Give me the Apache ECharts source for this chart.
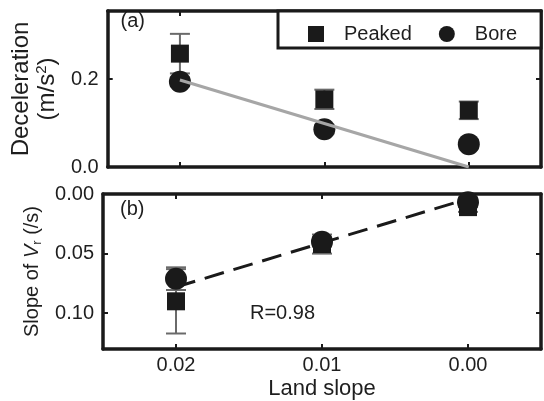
<!DOCTYPE html>
<html>
<head>
<meta charset="utf-8">
<script src="https://cdn.jsdelivr.net/npm/echarts@6/dist/echarts.min.js"></script>
<style>
html,body{margin:0;padding:0;background:#fff;}
#chart{width:544px;height:401px;}
</style>
</head>
<body>
<div id="chart"></div>
<script>
// ---- data ----
const slopes = [0.02, 0.01, 0.00];
const peakedDecel = [0.258, 0.154, 0.129];
const peakedDecelErr = [0.045, 0.022, 0.020];
const boreDecel = [0.194, 0.086, 0.052];
const boreDecelErr = [0.010, 0.010, 0.010];
const peakedVr = [0.090, 0.042, 0.011];
const peakedVrErr = [0.027, 0.008, 0.004];
const boreVr = [0.071, 0.040, 0.007];
const boreVrErr = [0.0095, 0.004, 0.004];
const fitDecel = [0.198, 0.0];   // fit line values at slopes[0] and slopes[2]
const fitVr = [0.078, 0.004];
const xTicks = [0.02, 0.01, 0.00];
const decelTicks = [0.0, 0.2];
const vrTicks = [0.00, 0.05, 0.10];
const rText = 'R=0.98';

const FONT = "'Liberation Sans', Arial, Helvetica, sans-serif";
const INK = '#1a1a1a';
const TXT = '#1e1e1e';

function pts(vals){ return slopes.map((s,i)=>[s, vals[i]]); }
function errs(vals, e){ return slopes.map((s,i)=>[s, vals[i]-e[i], vals[i]+e[i]]); }

function errRender(params, api){
  const x = api.value(0);
  const a = api.coord([x, api.value(1)]);
  const b = api.coord([x, api.value(2)]);
  const hw = 10;
  const st = {stroke:'#6a6a6a', lineWidth:2};
  return {type:'group', children:[
    {type:'line', shape:{x1:a[0],y1:a[1],x2:b[0],y2:b[1]}, style:st},
    {type:'line', shape:{x1:a[0]-hw,y1:a[1],x2:a[0]+hw,y2:a[1]}, style:st},
    {type:'line', shape:{x1:b[0]-hw,y1:b[1],x2:b[0]+hw,y2:b[1]}, style:st}
  ]};
}

function xAx(gridIndex, position, showLabels, extra){
  return Object.assign({
    type:'value', gridIndex, position, min:-0.005, max:0.025, inverse:true,
    axisLine:{show:true, onZero:false, lineStyle:{color:INK, width:3.5}},
    axisTick:{show:true, inside:true, length:5, customValues:xTicks, lineStyle:{color:INK, width:2}},
    axisLabel:{show:showLabels, customValues:xTicks, formatter:v=>v.toFixed(2), margin:6,
               fontSize:20, color:TXT, fontFamily:FONT},
    splitLine:{show:false}
  }, extra||{});
}
function yAx(gridIndex, position, showLabels, min, max, inverse, ticks, dec, extra){
  return Object.assign({
    type:'value', gridIndex, position, min, max, inverse,
    axisLine:{show:true, onZero:false, lineStyle:{color:INK, width:3.5}},
    axisTick:{show:true, inside:true, length:5, customValues:ticks, lineStyle:{color:INK, width:2}},
    axisLabel:{show:showLabels, customValues:ticks, formatter:v=>v.toFixed(dec), margin:9,
               fontSize:20, color:TXT, fontFamily:FONT},
    splitLine:{show:false}
  }, extra||{});
}

const mark = {color:INK, opacity:1};

const chart = echarts.init(document.getElementById('chart'), null, {renderer:'canvas'});
chart.setOption({
  animation:false,
  backgroundColor:'#fff',
  textStyle:{fontFamily:FONT, color:TXT},
  grid:[
    {left:103, width:438, top:11, height:156},
    {left:103, width:438, top:194, height:158}
  ],
  xAxis:[
    xAx(0,'bottom',false),
    xAx(0,'top',false),
    xAx(1,'bottom',true,{name:'Land slope', nameLocation:'middle', nameGap:29,
        nameTextStyle:{fontSize:22, color:TXT, fontFamily:FONT}}),
    xAx(1,'top',false)
  ],
  yAxis:[
    yAx(0,'left',true,0,0.355,false,decelTicks,1,{
      name:'Deceleration\n(m/s{sup|2})', nameLocation:'middle', nameRotate:90, nameGap:38,
      nameTextStyle:{fontSize:24, lineHeight:26, color:TXT, fontFamily:FONT,
        rich:{sup:{fontSize:15, lineHeight:16, verticalAlign:'top', color:TXT, fontFamily:FONT}}}
    }),
    yAx(0,'right',false,0,0.355,false,decelTicks,1),
    yAx(1,'left',true,0,0.13,true,vrTicks,2,{
      name:'Slope of {i|V}{sub|r} (/s)', nameLocation:'middle', nameRotate:90, nameGap:59,
      nameTextStyle:{fontSize:20, lineHeight:24, color:TXT, fontFamily:FONT,
        rich:{
          i:{fontSize:20, lineHeight:24, fontStyle:'italic', color:TXT, fontFamily:FONT},
          sub:{fontSize:13, lineHeight:12, verticalAlign:'bottom', color:TXT, fontFamily:FONT}
        }}
    }),
    yAx(1,'right',false,0,0.13,true,vrTicks,2)
  ],
  legend:{
    left:278, top:11, orient:'horizontal', selectedMode:false,
    padding:[13,24,4,30], itemGap:27, itemWidth:16, itemHeight:16,
    backgroundColor:'#fff', borderColor:INK, borderWidth:3, borderRadius:0,
    textStyle:{fontSize:20, color:TXT, fontFamily:FONT, lineHeight:20, padding:[0,0,0,15]},
    data:[{name:'Peaked', icon:'rect'}, {name:'Bore', icon:'circle'}]
  },
  graphic:[
    {type:'text', x:120.5, y:21, style:{text:'(a)', font:'20px '+FONT, fill:TXT, textVerticalAlign:'middle', verticalAlign:'middle'}},
    {type:'text', x:120, y:209, style:{text:'(b)', font:'20px '+FONT, fill:TXT, textVerticalAlign:'middle', verticalAlign:'middle'}},
    {type:'text', x:250, y:313, style:{text:rText, font:'20px '+FONT, fill:TXT, textVerticalAlign:'middle', verticalAlign:'middle'}}
  ],
  series:[
    // panel (a)
    {name:'errPA', type:'custom', xAxisIndex:0, yAxisIndex:0, renderItem:errRender, encode:{x:0,y:[1,2]}, data:errs(peakedDecel, peakedDecelErr), z:2},
    {name:'errBA', type:'custom', xAxisIndex:0, yAxisIndex:0, renderItem:errRender, encode:{x:0,y:[1,2]}, data:errs(boreDecel, boreDecelErr), z:2},
    {name:'Peaked', type:'scatter', xAxisIndex:0, yAxisIndex:0, symbol:'rect', symbolSize:18, itemStyle:mark, data:pts(peakedDecel), z:3},
    {name:'Bore', type:'scatter', xAxisIndex:0, yAxisIndex:0, symbol:'circle', symbolSize:22, itemStyle:mark, data:pts(boreDecel), z:3},
    {name:'fitA', type:'line', xAxisIndex:0, yAxisIndex:0, symbol:'none', lineStyle:{color:'#a6a6a6', width:3},
      data:[[slopes[0], fitDecel[0]], [slopes[2], fitDecel[1]]], z:4},
    // panel (b)
    {name:'fitB', type:'line', xAxisIndex:2, yAxisIndex:2, symbol:'none', lineStyle:{color:INK, width:3, type:[20,10]},
      data:[[slopes[0], fitVr[0]], [slopes[2], fitVr[1]]], z:2},
    {name:'errPB', type:'custom', xAxisIndex:2, yAxisIndex:2, renderItem:errRender, encode:{x:0,y:[1,2]}, data:errs(peakedVr, peakedVrErr), z:2},
    {name:'errBB', type:'custom', xAxisIndex:2, yAxisIndex:2, renderItem:errRender, encode:{x:0,y:[1,2]}, data:errs(boreVr, boreVrErr), z:2},
    {name:'Peaked', type:'scatter', xAxisIndex:2, yAxisIndex:2, symbol:'rect', symbolSize:18, itemStyle:mark, data:pts(peakedVr), z:3},
    {name:'Bore', type:'scatter', xAxisIndex:2, yAxisIndex:2, symbol:'circle', symbolSize:22, itemStyle:mark, data:pts(boreVr), z:3}
  ]
});
</script>
</body>
</html>
